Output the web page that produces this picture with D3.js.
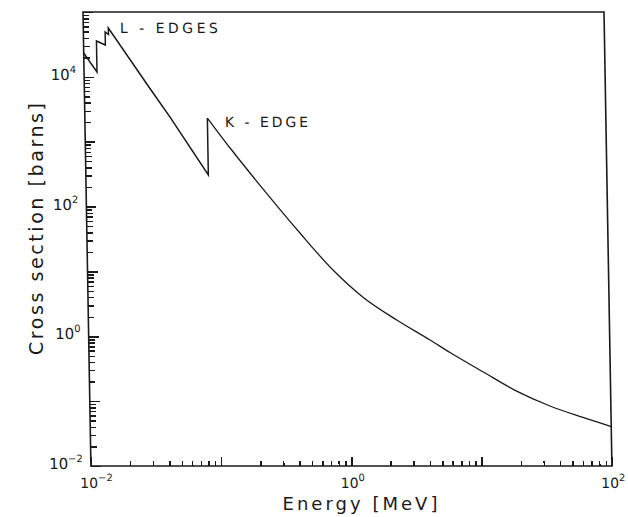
<!DOCTYPE html>
<meta charset="utf-8">
<script src="https://d3js.org/d3.v7.min.js"></script>
<style>
  body { margin: 0; background: #fff; }
  svg { font-family: "DejaVu Sans", sans-serif; }
</style>
<body>
<div id="area"></div>
<script>
// photon cross section of lead
// low part: start -> L edges -> K edge (straight segments)
var lowEnergy  = [0.01, 0.01257, 0.01257, 0.0147, 0.0147, 0.01557, 0.01557, 0.0319, 0.0451, 0.0872, 0.0872];
var lowSigma   = [23300, 11900, 35700, 31000, 49200, 45000, 56600, 6620, 2400, 307, 2320];
// high part: above K edge (smooth)
var highEnergy = [0.0872, 0.1327, 0.243, 0.4325, 0.767, 1.30, 2.33, 4.17, 5.92, 10.6, 19.0, 34.1, 60.8, 100];
var highSigma  = [2320, 745, 160, 39.1, 10.5, 3.96, 1.78, 0.877, 0.562, 0.281, 0.143, 0.0841, 0.056, 0.0406];

var xLabelExps = [-2, 0, 2];
var yLabelExps = [-2, 0, 2, 4];
var edgeLabels = [
  {text: "L - EDGES", e: 0.0191, s: 47400, len: 98},
  {text: "K - EDGE",  e: 0.119,  s: 1690,  len: 83}
];

var W = 628, H = 517;
var margin = {top: 12, left: 83},
    width = 521,
    height = 454;

var svg = d3.select("#area").append("svg")
    .attr("width", W)
    .attr("height", H);

// the scan is slightly sheared, so is the plot group
var g = svg.append("g")
    .attr("transform", "translate(" + margin.left + "," + margin.top + ") skewX(1)");

var x = d3.scaleLog().domain([1e-2, 1e2]).range([0, width]);
var y = d3.scaleLog().domain([1e-2, 1e5]).range([height, 0]);

function decades(lo, hi) {
  var out = [];
  for (var p = lo; p <= hi; p++) out.push(Math.pow(10, p));
  return out;
}
function minors(lo, hi) {
  var out = [];
  for (var p = lo; p < hi; p++)
    for (var k = 2; k <= 9; k++) out.push(k * Math.pow(10, p));
  return out;
}

function ticks(axis, vals, size) {
  var a = g.append("g")
    .call(axis.tickValues(vals).tickSize(size).tickFormat(""));
  a.select(".domain").remove();
  a.selectAll("line")
    .attr("stroke", "#1a1a1a")
    .attr("stroke-width", 1.5)
    .attr("shape-rendering", "crispEdges");
  return a;
}

// x ticks (inward)
ticks(d3.axisBottom(x), minors(-2, 2), -5).attr("transform", "translate(0," + height + ")");
ticks(d3.axisBottom(x), decades(-2, 2), -9).attr("transform", "translate(0," + height + ")");
// y ticks (inward)
ticks(d3.axisLeft(y), minors(-2, 5), -6);
ticks(d3.axisLeft(y), decades(-2, 5), -10);

// frame
g.append("rect")
  .attr("width", width)
  .attr("height", height)
  .attr("fill", "none")
  .attr("stroke", "#1a1a1a")
  .attr("stroke-width", 1.6);

function powText(sel, p) {
  sel.append("tspan").text("10");
  sel.append("tspan")
    .attr("dy", -7)
    .attr("font-size", 10)
    .text(String(p).replace("-", "\u2212"));
}

// tick labels
g.selectAll(".xl").data(xLabelExps).enter()
  .append("text")
    .attr("class", "xl")
    .attr("x", function(d) { return x(Math.pow(10, d)) - 11; })
    .attr("y", height + 22)
    .attr("font-size", 14)
    .attr("fill", "#1a1a1a")
    .each(function(d) { powText(d3.select(this), d); });

g.selectAll(".yl").data(yLabelExps).enter()
  .append("text")
    .attr("class", "yl")
    .attr("x", -8)
    .attr("y", function(d) { return y(Math.pow(10, d)) + 3; })
    .attr("text-anchor", "end")
    .attr("font-size", 15)
    .attr("fill", "#1a1a1a")
    .each(function(d) { powText(d3.select(this), d); });

// curve
var lowData = lowEnergy.map(function(e, i) { return [e, lowSigma[i]]; });
var highData = highEnergy.map(function(e, i) { return [e, highSigma[i]]; });

var lineLow = d3.line()
  .x(function(d) { return x(d[0]); })
  .y(function(d) { return y(d[1]); });
var lineHigh = d3.line()
  .x(function(d) { return x(d[0]); })
  .y(function(d) { return y(d[1]); })
  .curve(d3.curveMonotoneX);

g.append("path")
  .datum(lowData)
  .attr("d", lineLow)
  .attr("fill", "none")
  .attr("stroke", "#1a1a1a")
  .attr("stroke-width", 1.5);
g.append("path")
  .datum(highData)
  .attr("d", lineHigh)
  .attr("fill", "none")
  .attr("stroke", "#1a1a1a")
  .attr("stroke-width", 1.3);

// edge annotations
g.selectAll(".edge").data(edgeLabels).enter()
  .append("text")
    .attr("class", "edge")
    .attr("x", function(d) { return x(d.e); })
    .attr("y", function(d) { return y(d.s); })
    .attr("font-size", 14)
    .attr("fill", "#1a1a1a")
    .attr("textLength", function(d) { return d.len; })
    .attr("lengthAdjust", "spacing")
    .text(function(d) { return d.text; });

// axis titles
svg.append("text")
  .attr("transform", "translate(43,229) rotate(-90)")
  .attr("text-anchor", "middle")
  .attr("font-size", 19)
  .attr("fill", "#1a1a1a")
  .attr("textLength", 252)
  .attr("lengthAdjust", "spacing")
  .text("Cross section [barns]");

svg.append("text")
  .attr("x", 360)
  .attr("y", 510)
  .attr("text-anchor", "middle")
  .attr("font-size", 18)
  .attr("fill", "#1a1a1a")
  .attr("textLength", 155)
  .attr("lengthAdjust", "spacing")
  .text("Energy [MeV]");
</script>
